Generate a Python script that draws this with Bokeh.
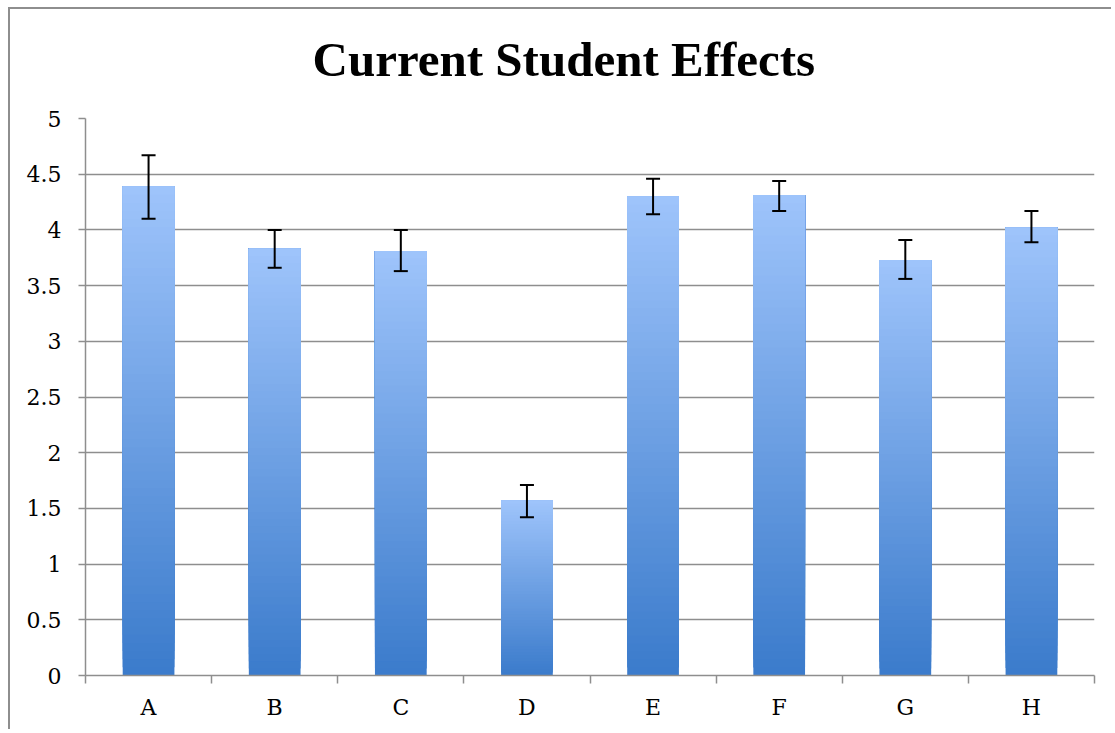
from bokeh.plotting import figure
from bokeh.models import Whisker, ColumnDataSource, FixedTicker, NumeralTickFormatter, Range1d, Title
from bokeh.embed import file_html
from bokeh.resources import INLINE

categories = ["A", "B", "C", "D", "E", "F", "G", "H"]
means = [4.39, 3.83, 3.81, 1.57, 4.30, 4.31, 3.73, 4.02]
upper = [4.67, 4.00, 4.00, 1.71, 4.46, 4.44, 3.91, 4.17]
lower = [4.10, 3.66, 3.63, 1.42, 4.14, 4.17, 3.56, 3.89]
y_ticks = [0, 0.5, 1, 1.5, 2, 2.5, 3, 3.5, 4, 4.5, 5]

top_rgb = (158, 196, 251)
bot_rgb = (60, 124, 204)
N = 60

p = figure(width=1103, height=722, output_backend="svg", toolbar_location=None,
           x_range=Range1d(0, len(categories)), y_range=Range1d(0, 5),
           min_border_left=75, min_border_right=19, min_border_bottom=56, min_border_top=109)
p.styles = {"border-left": "2px solid #8e8e8e", "border-top": "2px solid #8e8e8e",
            "margin-left": "8px", "margin-top": "7px"}
p.outline_line_color = None
p.background_fill_color = "white"
p.border_fill_color = "white"

p.title.text = "Current Student Effects"
p.title.text_font = "Liberation Serif"
p.title.text_font_style = "bold"
p.title.text_font_size = "49px"
p.title.align = "left"
p.title.offset = 227
p.title.standoff = 38
p.title.text_color = "black"

spacer = Title(text=" ", text_font_size="1px", standoff=10)
p.add_layout(spacer, "above")

# gradient bars (overlapping layers, each reaching the bar top)
xs, bots, tops, cols = [], [], [], []
for i, v in enumerate(means):
    for k in range(N):
        t = k / (N - 1)
        r = int(bot_rgb[0] + (top_rgb[0] - bot_rgb[0]) * t)
        g = int(bot_rgb[1] + (top_rgb[1] - bot_rgb[1]) * t)
        b = int(bot_rgb[2] + (top_rgb[2] - bot_rgb[2]) * t)
        xs.append(i + 0.5)
        bots.append(v * k / N)
        tops.append(v)
        cols.append("#%02x%02x%02x" % (r, g, b))
p.vbar(x=xs, bottom=bots, top=tops, width=0.41, fill_color=cols, line_color=None)

src = ColumnDataSource(dict(x=[i + 0.5 for i in range(len(categories))], lo=lower, up=upper))
w = Whisker(base="x", lower="lo", upper="up", source=src, line_color="black", line_width=2,
            level="overlay")
w.upper_head.size = 14
w.lower_head.size = 14
w.upper_head.line_width = 2
w.lower_head.line_width = 2
p.add_layout(w)

# axes
p.xaxis.ticker = FixedTicker(ticks=[i + 0.5 for i in range(len(categories))],
                             minor_ticks=list(range(len(categories) + 1)))
p.xaxis.major_label_overrides = {i + 0.5: c for i, c in enumerate(categories)}
p.xaxis.major_tick_line_color = None
p.xaxis.minor_tick_line_color = "#8e8e8e"
p.xaxis.minor_tick_in = 0
p.xaxis.minor_tick_out = 8
p.xaxis.minor_tick_line_width = 1.5
p.xaxis.axis_line_color = "#8e8e8e"
p.xaxis.axis_line_width = 1.5
p.xaxis.major_label_standoff = 11
p.xaxis.major_label_text_font = "DejaVu Serif"
p.xaxis.major_label_text_font_size = "22px"
p.xaxis.major_label_text_color = "black"

p.yaxis.ticker = FixedTicker(ticks=y_ticks, minor_ticks=[])
p.yaxis.formatter = NumeralTickFormatter(format="0.[0]")
p.yaxis.major_tick_line_color = "#8e8e8e"
p.yaxis.major_tick_in = 0
p.yaxis.major_tick_out = 7
p.yaxis.major_tick_line_width = 1.5
p.yaxis.axis_line_color = "#8e8e8e"
p.yaxis.axis_line_width = 1.5
p.yaxis.major_label_standoff = 17
p.yaxis.major_label_text_font = "DejaVu Serif"
p.yaxis.major_label_text_font_size = "22px"
p.yaxis.major_label_text_color = "black"

p.xgrid.grid_line_color = None
p.ygrid.grid_line_color = "#8e8e8e"
p.ygrid.grid_line_width = 1.5
p.ygrid.ticker = FixedTicker(ticks=y_ticks)

open("out.html", "w").write(file_html(p, INLINE))
